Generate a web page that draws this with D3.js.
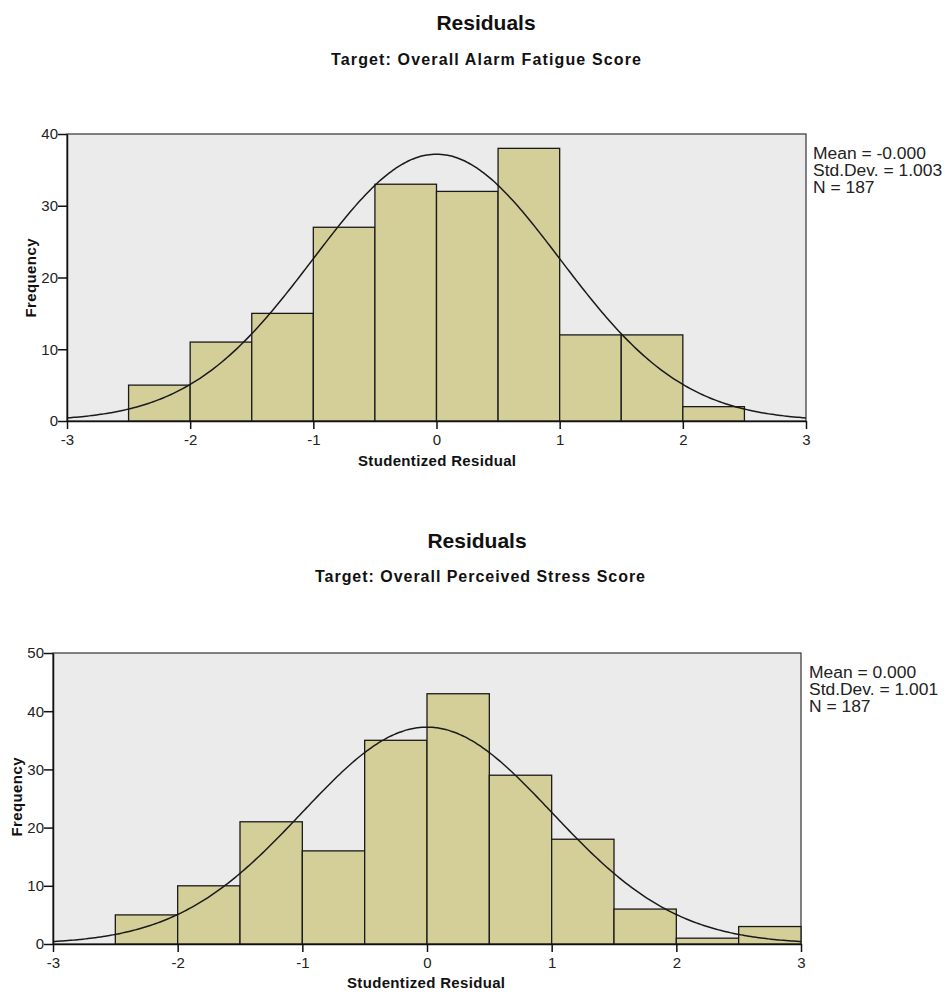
<!DOCTYPE html>
<html>
<head>
<meta charset="utf-8">
<script src="https://cdn.jsdelivr.net/npm/d3@7"></script>
<style>
  html, body { margin: 0; padding: 0; background: #ffffff; }
  svg { display: block; font-family: "Liberation Sans", Arial, sans-serif; }
</style>
</head>
<body>
<svg id="chart" width="946" height="992"></svg>
<script>
// ---------- data ----------
const binWidth = 0.5;
const xTicks = [-3, -2, -1, 0, 1, 2, 3];

const alarmBinStarts = [-2.5, -2, -1.5, -1, -0.5, 0, 0.5, 1, 1.5, 2];
const alarmCounts    = [5, 11, 15, 27, 33, 32, 38, 12, 12, 2];
const alarmYTicks    = [0, 10, 20, 30, 40];
const alarmStats     = [0.0, 1.003, 187];          // mean, sd, N
const alarmLegend    = ["Mean = -0.000", "Std.Dev. = 1.003", "N = 187"];
const alarmTitle     = "Residuals";
const alarmSubtitle  = "Target: Overall Alarm Fatigue Score";

const stressBinStarts = [-2.5, -2, -1.5, -1, -0.5, 0, 0.5, 1, 1.5, 2, 2.5];
const stressCounts    = [5, 10, 21, 16, 35, 43, 29, 18, 6, 1, 3];
const stressYTicks    = [0, 10, 20, 30, 40, 50];
const stressStats     = [0.0, 1.001, 187];
const stressLegend    = ["Mean = 0.000", "Std.Dev. = 1.001", "N = 187"];
const stressTitle     = "Residuals";
const stressSubtitle  = "Target: Overall Perceived Stress Score";

const xLabel = "Studentized Residual";
const yLabel = "Frequency";

// ---------- drawing ----------
const svg = d3.select("#chart");

function drawPanel(opt) {
  const g = svg.append("g");
  const x = d3.scaleLinear().domain([-3, 3]).range([opt.left, opt.right]);
  const y = d3.scaleLinear().domain([0, opt.yMax]).range([opt.bottom, opt.top]);

  // titles
  g.append("text").attr("x", opt.titleX).attr("y", opt.titleY)
    .attr("text-anchor", "middle").attr("font-size", 21).attr("font-weight", "bold")
    .attr("fill", "#111").text(opt.title);
  g.append("text").attr("x", opt.subX).attr("y", opt.subY)
    .attr("text-anchor", "middle").attr("font-size", 16).attr("font-weight", "bold")
    .attr("fill", "#111")
    .attr("textLength", opt.subLen).attr("lengthAdjust", "spacing")
    .text(opt.subtitle);

  // plot background
  g.append("rect").attr("x", opt.left).attr("y", opt.top)
    .attr("width", opt.right - opt.left).attr("height", opt.bottom - opt.top)
    .attr("fill", "#ebebeb").attr("stroke", "#333").attr("stroke-width", 1.2);

  // bars
  g.append("g").selectAll("rect").data(opt.starts.map((s, i) => ({s, c: opt.counts[i]})))
    .join("rect")
    .attr("x", d => x(d.s))
    .attr("y", d => y(d.c))
    .attr("width", d => x(d.s + binWidth) - x(d.s))
    .attr("height", d => y(0) - y(d.c))
    .attr("fill", "#d4cf98")
    .attr("stroke", "#1a1a1a")
    .attr("stroke-width", 1.3);

  // normal curve from the displayed statistics
  const [mu, sd, n] = opt.stats;
  const pts = d3.range(-3, 3.0001, 0.02).map(v => [v,
    n * binWidth * Math.exp(-0.5 * ((v - mu) / sd) ** 2) / (sd * Math.sqrt(2 * Math.PI))]);
  g.append("path").datum(pts)
    .attr("d", d3.line().x(d => x(d[0])).y(d => y(d[1])).curve(d3.curveBasis))
    .attr("fill", "none").attr("stroke", "#1a1a1a").attr("stroke-width", 1.5);

  // axes
  const xAxis = g.append("g").attr("transform", `translate(0,${opt.bottom})`)
    .call(d3.axisBottom(x).tickValues(xTicks).tickSize(8).tickSizeOuter(0)
      .tickFormat(d => String(d)));
  const yAxis = g.append("g").attr("transform", `translate(${opt.left},0)`)
    .call(d3.axisLeft(y).tickValues(opt.yTicks).tickSize(9).tickSizeOuter(0)
      .tickFormat(d => String(d)));
  [xAxis, yAxis].forEach(a => {
    a.select(".domain").attr("stroke", "#111").attr("stroke-width", 1.5);
    a.selectAll(".tick line").attr("stroke", "#111").attr("stroke-width", 1.5);
    a.selectAll(".tick text").attr("font-size", 15)
      .attr("font-family", "'Liberation Sans', Arial, sans-serif").attr("fill", "#222");
  });
  xAxis.selectAll(".tick text").attr("dy", "0.95em").attr("y", 10);
  yAxis.selectAll(".tick text").attr("x", -9).attr("dx", 0);

  // axis labels
  g.append("text").attr("x", opt.xLabX).attr("y", opt.xLabY)
    .attr("text-anchor", "middle").attr("font-size", 15).attr("font-weight", "bold")
    .attr("fill", "#111").attr("textLength", 158).attr("lengthAdjust", "spacing")
    .text(xLabel);
  g.append("text")
    .attr("transform", `translate(${opt.yLabX},${opt.yLabY}) rotate(-90)`)
    .attr("text-anchor", "middle").attr("font-size", 15).attr("font-weight", "bold")
    .attr("fill", "#111").attr("textLength", 79).attr("lengthAdjust", "spacing")
    .text(yLabel);

  // legend (slightly wider letterforms like the reference)
  g.append("g").selectAll("text").data(opt.legend).join("text")
    .attr("x", opt.legX).attr("y", (d, i) => opt.legY + i * 17)
    .attr("font-size", 16).attr("fill", "#222").text(d => d)
    .each(function () {
      const w = this.getComputedTextLength();
      d3.select(this).attr("textLength", w * 1.09).attr("lengthAdjust", "spacingAndGlyphs");
    });
}

drawPanel({
  left: 67, right: 806, top: 134, bottom: 421, yMax: 40,
  starts: alarmBinStarts, counts: alarmCounts, yTicks: alarmYTicks,
  stats: alarmStats, legend: alarmLegend,
  title: alarmTitle, subtitle: alarmSubtitle,
  titleX: 486, titleY: 30, subX: 486, subY: 65, subLen: 310,
  xLabX: 437, xLabY: 466, yLabX: 36, yLabY: 278,
  legX: 813, legY: 159
});

drawPanel({
  left: 53, right: 801, top: 653, bottom: 944, yMax: 50,
  starts: stressBinStarts, counts: stressCounts, yTicks: stressYTicks,
  stats: stressStats, legend: stressLegend,
  title: stressTitle, subtitle: stressSubtitle,
  titleX: 477, titleY: 548, subX: 480, subY: 582, subLen: 330,
  xLabX: 426, xLabY: 988, yLabX: 22, yLabY: 797,
  legX: 809, legY: 678
});
</script>
</body>
</html>
